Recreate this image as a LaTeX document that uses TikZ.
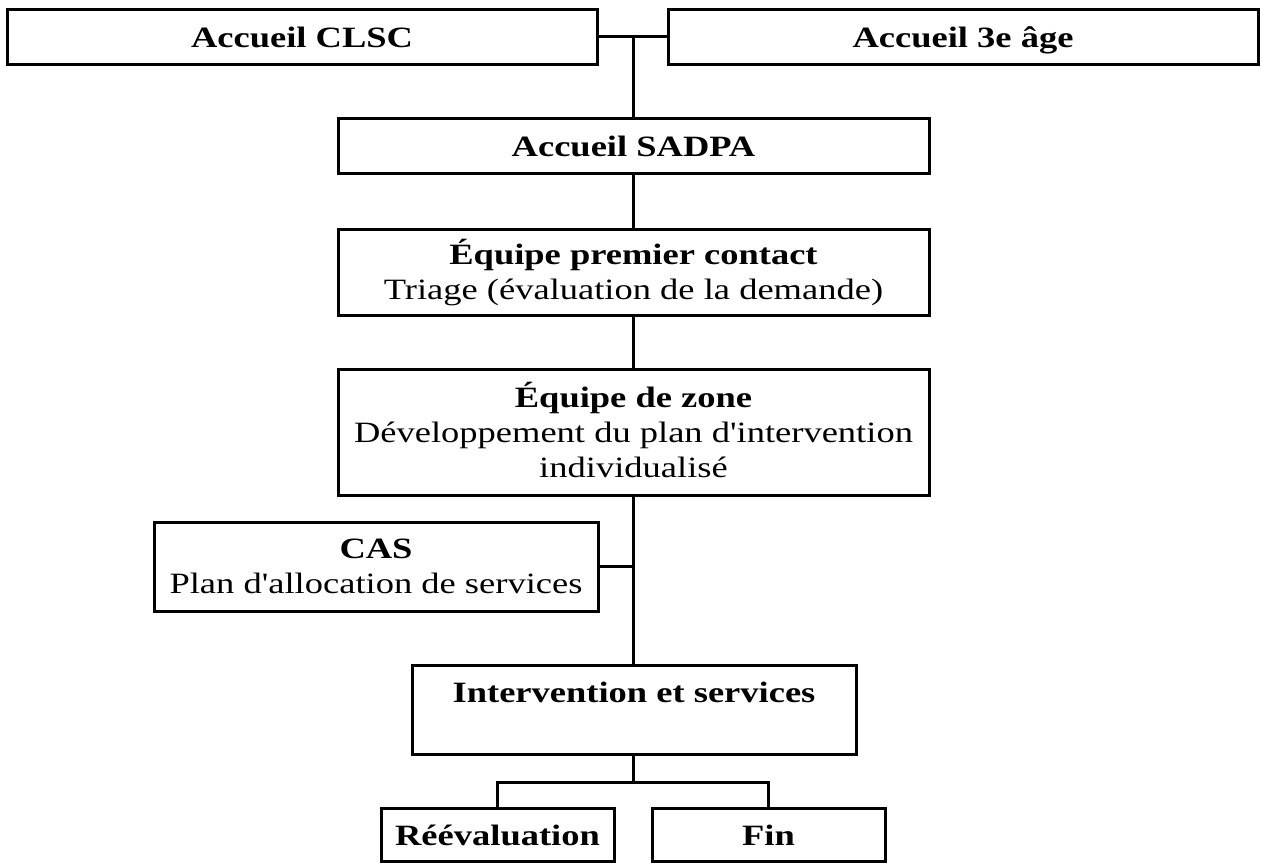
\documentclass[tikz,border=0pt]{standalone}
\usepackage{fontspec}
\newfontfamily\tnrfont[FakeStretch=1.237]{Liberation Serif}
\begin{document}
\begin{tikzpicture}[x=1pt,y=-1pt,
  box/.style={draw=black,line width=3pt,inner sep=0pt,outer sep=0pt,fill=white},
  ln/.style={draw=black,line width=3pt},
  txt/.style={anchor=base,inner sep=0pt,font=\tnrfont\fontsize{29.5}{35}\selectfont},
  btxt/.style={txt,font=\tnrfont\fontsize{29.5}{35}\selectfont\bfseries}]
\useasboundingbox (0,0) rectangle (1262,863);
% boxes
\node[box,minimum width=590pt,minimum height=55pt] (clsc) at (302,36.5) {};
\node[box,minimum width=590pt,minimum height=55pt] (age) at (963,36.5) {};
\node[box,minimum width=591pt,minimum height=55pt] (sadpa) at (633.5,145.5) {};
\node[box,minimum width=591pt,minimum height=86pt] (epc) at (633.5,272) {};
\node[box,minimum width=591pt,minimum height=126pt] (ez) at (633.5,432) {};
\node[box,minimum width=444pt,minimum height=89pt] (cas) at (376,566.5) {};
\node[box,minimum width=444pt,minimum height=89pt] (inter) at (634,709.5) {};
\node[box,minimum width=233pt,minimum height=53pt] (reev) at (497.5,834.5) {};
\node[box,minimum width=233pt,minimum height=53pt] (fin) at (768.5,834.5) {};
% texts
\node[btxt] (tclsc) at (302,47) {Accueil CLSC};
\node[btxt] (tage) at (963,47) {Accueil 3e âge};
\node[btxt] (tsadpa) at (633.5,156) {Accueil SADPA};
\node[btxt] (tepc1) at (633.5,264) {Équipe premier contact};
\node[txt] (tepc2) at (633.5,299) {Triage (évaluation de la demande)};
\node[btxt] (tez1) at (633.5,407) {Équipe de zone};
\node[txt] (tez2) at (633.5,442) {Développement du plan d'intervention};
\node[txt] (tez3) at (633.5,477) {individualisé};
\node[btxt] (tcas1) at (376,558) {CAS};
\node[txt] (tcas2) at (376,593) {Plan d'allocation de services};
\node[btxt] (tinter) at (634,702) {Intervention et services};
\node[btxt] (treev) at (497.5,845) {Réévaluation};
\node[btxt] (tfin) at (768.5,845) {Fin};
% connectors
\coordinate (top) at (633,36.5);
\coordinate (br) at (633,782);
\draw[ln] (clsc.east) -- (age.west);
\draw[ln] (top) -- (top |- sadpa.north);
\draw[ln] (top |- sadpa.south) -- (top |- epc.north);
\draw[ln] (top |- epc.south) -- (top |- ez.north);
\draw[ln] (top |- ez.south) -- (top |- inter.north);
\draw[ln] (cas.east) -- (cas.east -| top);
\draw[ln] (top |- inter.south) -- (br);
\draw[ln] (reev.north) |- (br) -| (fin.north);
\end{tikzpicture}
\end{document}
